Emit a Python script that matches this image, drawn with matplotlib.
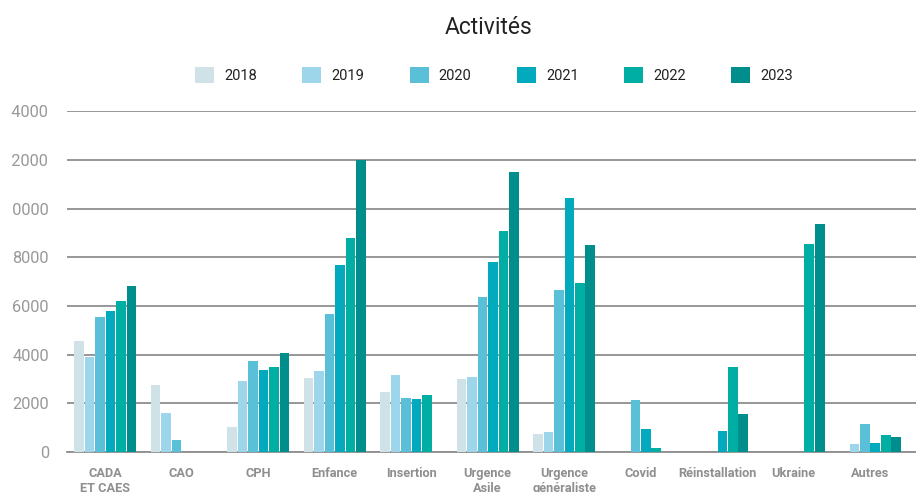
"""
Activités par dispositif, 2018-2023 (grouped bars).
"""

import numpy as np
import matplotlib.pyplot as plt
from matplotlib.patches import Patch
from matplotlib.transforms import Bbox, TransformedBbox

nan = np.nan

categories = ["CADA\nET CAES", "CAO", "CPH", "Enfance", "Insertion",
              "Urgence\nAsile", "Urgence\ngénéraliste", "Covid",
              "Réinstallation", "Ukraine", "Autres"]
years = ["2018", "2019", "2020", "2021", "2022", "2023"]

v2018 = [4570, 2750, 1030, 3040, 2470, 3000, 740, nan, nan, nan, nan]
v2019 = [3920, 1600, 2920, 3330, 3170, 3080, 820, nan, nan, nan, 330]
v2020 = [5550, 500, 3740, 5670, 2220, 6370, 6660, 2140, nan, nan, 1150]
v2021 = [5800, nan, 3370, 7690, 2180, 7810, 10440, 950, 860, nan, 370]
v2022 = [6210, nan, 3490, 8800, 2340, 9080, 6950, 160, 3490, 8550, 700]
v2023 = [6820, nan, 4070, 12000, nan, 11510, 8510, nan, 1560, 9370, 620]

yticks = [0, 2000, 4000, 6000, 8000, 10000, 12000, 14000]

series = [v2018, v2019, v2020, v2021, v2022, v2023]
colors = ["#cfe2e8", "#9dd5eb", "#5ac0d8", "#03a9bd", "#00aea3", "#008e8c"]

plt.rcParams["font.family"] = ["Roboto", "DejaVu Sans"]

fig = plt.figure(figsize=(9.16, 4.92), dpi=100)
ax = fig.add_axes([67 / 916, 40 / 492, 1 - 67 / 916, 340.7 / 492])

x = np.arange(len(categories))
step = 0.137
for i, (vals, col) in enumerate(zip(series, colors)):
    ax.bar(x + (i - 2.5) * step, vals, width=step * 0.93, color=col,
           zorder=3)

ax.set_xlim(-0.5, 10.6)
ax.set_ylim(0, 14000)
ax.set_yticks(yticks)
ax.set_yticklabels([str(t) for t in yticks])
ax.set_xticks(x)
ax.set_xticklabels(categories, fontweight="bold", fontsize=9.2,
                   color="#8f8f8f", linespacing=1.15)

ax.grid(axis="y", color="#8f8f8f", linewidth=1.3, zorder=0)
for side in ["top", "right", "left"]:
    ax.spines[side].set_visible(False)
ax.spines["bottom"].set_color("#8f8f8f")
ax.spines["bottom"].set_linewidth(1.3)
ax.tick_params(axis="x", length=0, pad=11)
ax.tick_params(axis="y", length=0, pad=13, labelsize=11.8,
               labelcolor="#999999")

# the leading digit of the y labels is cut off in the original
clip = TransformedBbox(Bbox.from_extents(10.5 / 916, 0, 1, 1), fig.transFigure)
for tick in ax.yaxis.get_major_ticks():
    tick.label1.set_clip_box(clip)
    tick.label1.set_clip_on(True)

fig.text(489 / 916, 1 - 28 / 492, "Activités", ha="center", va="center",
         fontsize=16.5, color="#222222")

handles = [Patch(facecolor=c, edgecolor="none") for c in colors]
fig.legend(handles, years, loc="center", bbox_to_anchor=(494 / 916, 1 - 75 / 492),
           ncol=6, frameon=False, fontsize=10.5, handlelength=1.3,
           handleheight=1.3, handletextpad=0.7, columnspacing=3.1,
           labelcolor="#222222")

fig.savefig("out.png", dpi=100)
